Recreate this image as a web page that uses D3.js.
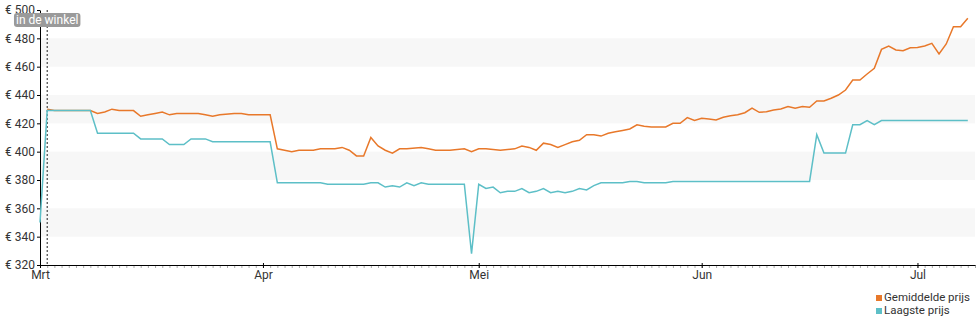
<!DOCTYPE html>
<html>
<head>
<meta charset="utf-8">
<script src="https://cdn.jsdelivr.net/npm/d3@7"></script>
<style>
  body { margin: 0; background: #fff; }
  #chart { font-family: Roboto, sans-serif; }
  .axis text { font-family: Roboto, sans-serif; font-size: 12px; fill: #333; }
</style>
</head>
<body>
<div id="chart"></div>
<script>
// lowest price per day
var lowDates = ["2021-03-01", "2021-03-02", "2021-03-08", "2021-03-09", "2021-03-14", "2021-03-15", "2021-03-18",
  "2021-03-19", "2021-03-21", "2021-03-22", "2021-03-24", "2021-03-25", "2021-04-02", "2021-04-03", "2021-04-09",
  "2021-04-10", "2021-04-15", "2021-04-16", "2021-04-17", "2021-04-18", "2021-04-19", "2021-04-20", "2021-04-21",
  "2021-04-22", "2021-04-23", "2021-04-24", "2021-04-29", "2021-04-30", "2021-05-01", "2021-05-02", "2021-05-03",
  "2021-05-04", "2021-05-05", "2021-05-06", "2021-05-07", "2021-05-08", "2021-05-09", "2021-05-10", "2021-05-11",
  "2021-05-12", "2021-05-13", "2021-05-14", "2021-05-15", "2021-05-16", "2021-05-17", "2021-05-18", "2021-05-21",
  "2021-05-22", "2021-05-23", "2021-05-24", "2021-05-27", "2021-05-28", "2021-06-16", "2021-06-17", "2021-06-18",
  "2021-06-21", "2021-06-22", "2021-06-23", "2021-06-24", "2021-06-25", "2021-06-26", "2021-07-08"];
var lowValues = [350, 429, 429, 413, 413, 409, 409,
  405, 405, 409, 409, 407, 407, 378, 378,
  377, 377, 378, 378, 375, 376, 375, 378,
  376, 378, 377, 377, 328, 377, 374, 375,
  371, 372, 372, 374, 371, 372, 374, 371,
  372, 371, 372, 374, 373, 376, 378, 378,
  379, 379, 378, 378, 379, 379, 412, 399,
  399, 419, 419, 422, 419, 422, 422];

// average price per day
var avgDates = ["2021-03-02", "2021-03-03", "2021-03-08", "2021-03-09", "2021-03-10", "2021-03-11", "2021-03-12",
  "2021-03-14", "2021-03-15", "2021-03-16", "2021-03-17", "2021-03-18", "2021-03-19", "2021-03-20", "2021-03-23",
  "2021-03-24", "2021-03-25", "2021-03-26", "2021-03-28", "2021-03-29", "2021-03-30", "2021-04-02", "2021-04-03",
  "2021-04-04", "2021-04-05", "2021-04-06", "2021-04-08", "2021-04-09", "2021-04-11", "2021-04-12", "2021-04-13",
  "2021-04-14", "2021-04-15", "2021-04-16", "2021-04-17", "2021-04-18", "2021-04-19", "2021-04-20", "2021-04-21",
  "2021-04-23", "2021-04-24", "2021-04-25", "2021-04-27", "2021-04-29", "2021-04-30", "2021-05-01", "2021-05-02",
  "2021-05-04", "2021-05-06", "2021-05-07", "2021-05-08", "2021-05-09", "2021-05-10", "2021-05-11", "2021-05-12",
  "2021-05-13", "2021-05-14", "2021-05-15", "2021-05-16", "2021-05-17", "2021-05-18", "2021-05-19", "2021-05-20",
  "2021-05-21", "2021-05-22", "2021-05-23", "2021-05-24", "2021-05-25", "2021-05-27", "2021-05-28", "2021-05-29",
  "2021-05-30", "2021-05-31", "2021-06-01", "2021-06-02", "2021-06-03", "2021-06-04", "2021-06-05", "2021-06-06",
  "2021-06-07", "2021-06-08", "2021-06-09", "2021-06-10", "2021-06-11", "2021-06-12", "2021-06-13", "2021-06-14",
  "2021-06-15", "2021-06-16", "2021-06-17", "2021-06-18", "2021-06-19", "2021-06-20", "2021-06-21", "2021-06-22",
  "2021-06-23", "2021-06-24", "2021-06-25", "2021-06-26", "2021-06-27", "2021-06-28", "2021-06-29", "2021-06-30",
  "2021-07-01", "2021-07-02", "2021-07-03", "2021-07-04", "2021-07-05", "2021-07-06", "2021-07-07", "2021-07-08"];
var avgValues = [430, 429, 429, 427, 428, 430, 429,
  429, 425, 426, 427, 428, 426, 427, 427,
  426, 425, 426, 427, 427, 426, 426, 402,
  401, 400, 401, 401, 402, 402, 403, 401,
  397, 397, 410, 404, 401, 399, 402, 402,
  403, 402, 401, 401, 402, 400, 402, 402,
  401, 402, 404, 403, 401, 406, 405, 403,
  405, 407, 408, 412, 412, 411, 413, 414,
  415, 416, 419, 418, 417.5, 417.5, 420, 420,
  424, 422, 423.5, 423, 422.4, 424.3, 425.4, 426.1,
  427.5, 430.8, 427.8, 428.2, 429.4, 430.1, 431.8, 430.6,
  431.8, 431.3, 435.8, 435.8, 437.7, 440, 443.5, 450.6,
  450.6, 454.8, 458.8, 472.2, 474.6, 471.8, 471.3, 473.4,
  473.6, 474.6, 476.5, 469, 476, 488.2, 488.2, 494.1];

var monthDates = ["2021-03-01", "2021-04-01", "2021-05-01", "2021-06-01", "2021-07-01"];
var monthLabels = ["Mrt", "Apr", "Mei", "Jun", "Jul"];
var yTicks = [320, 340, 360, 380, 400, 420, 440, 460, 480, 500];
var bands = [[340, 360], [380, 400], [420, 440], [460, 480]];
var inStoreDate = "2021-03-02";
var inStoreLabel = "in de winkel";
var seriesNames = ["Gemiddelde prijs", "Laagste prijs"];
var seriesColors = ["#e8782a", "#5dbfc7"];

var margin = { top: 10, right: 5, bottom: 60, left: 40 },
  width = 980 - margin.left - margin.right,
  height = 325 - margin.top - margin.bottom;

var parse = d3.timeParse("%Y-%m-%d");

var svg = d3.select("#chart")
  .append("svg")
  .attr("width", width + margin.left + margin.right)
  .attr("height", height + margin.top + margin.bottom)
  .append("g")
  .attr("transform", "translate(" + margin.left + "," + margin.top + ")");

var x = d3.scaleTime()
  .domain([parse("2021-03-01"), parse("2021-07-09")])
  .range([0, width]);

var y = d3.scaleLinear()
  .domain([320, 500])
  .range([height, 0]);

// grey bands
svg.selectAll(".band")
  .data(bands)
  .enter()
  .append("rect")
  .attr("class", "band")
  .attr("x", 0)
  .attr("width", width)
  .attr("y", function (d) { return y(d[1]); })
  .attr("height", function (d) { return y(d[0]) - y(d[1]); })
  .attr("fill", "#f7f7f7");

// day ticks
svg.append("g")
  .attr("transform", "translate(0," + height + ")")
  .call(d3.axisBottom(x).ticks(d3.timeDay.every(1)).tickSize(3).tickFormat(""))
  .call(function (g) { g.select(".domain").remove(); })
  .selectAll("line")
  .attr("stroke", "#aaa");

// x axis
var xAxis = svg.append("g")
  .attr("class", "axis")
  .attr("transform", "translate(0," + height + ")")
  .call(d3.axisBottom(x)
    .tickValues(monthDates.map(parse))
    .tickFormat(function (d, i) { return monthLabels[i]; })
    .tickSize(3)
    .tickSizeOuter(0)
    .tickPadding(2));
xAxis.selectAll(".tick line").attr("y1", -2);

// y axis
svg.append("g")
  .attr("class", "axis")
  .call(d3.axisLeft(y)
    .tickValues(yTicks)
    .tickFormat(function (d) { return "€ " + d; })
    .tickSize(3)
    .tickSizeOuter(0)
    .tickPadding(2));

// in store marker
svg.append("line")
  .attr("x1", x(parse(inStoreDate)))
  .attr("x2", x(parse(inStoreDate)))
  .attr("y1", 0)
  .attr("y2", height)
  .attr("stroke", "#222")
  .attr("stroke-dasharray", "2,2");

var line = d3.line()
  .x(function (d) { return x(d.date); })
  .y(function (d) { return y(d.value); });

var avgData = avgDates.map(function (d, i) { return { date: parse(d), value: avgValues[i] }; });
var lowData = lowDates.map(function (d, i) { return { date: parse(d), value: lowValues[i] }; });

svg.append("path")
  .datum(avgData)
  .attr("fill", "none")
  .attr("stroke", seriesColors[0])
  .attr("stroke-width", 1.5)
  .attr("d", line);

svg.append("path")
  .datum(lowData)
  .attr("fill", "none")
  .attr("stroke", seriesColors[1])
  .attr("stroke-width", 1.5)
  .attr("d", line);

// label box
var lbl = svg.append("g")
  .attr("transform", "translate(" + x(parse(inStoreDate)) + ",10)");
var lblText = lbl.append("text")
  .attr("text-anchor", "middle")
  .attr("y", 0)
  .attr("dy", "0.35em")
  .attr("fill", "#fff")
  .style("font-size", "12px")
  .text(inStoreLabel);
var bb = lblText.node().getBBox();
lbl.insert("rect", "text")
  .attr("x", bb.x - 2)
  .attr("y", -7)
  .attr("width", bb.width + 4)
  .attr("height", 14)
  .attr("rx", 3)
  .attr("fill", "#9a9a9a");

// legend
var legend = svg.selectAll(".legend")
  .data(seriesNames)
  .enter()
  .append("g")
  .attr("class", "legend")
  .attr("transform", function (d, i) { return "translate(" + (836) + "," + (height + 36 + i * 13) + ")"; });

legend.append("rect")
  .attr("x", 0)
  .attr("y", -6)
  .attr("width", 6)
  .attr("height", 6)
  .attr("fill", function (d, i) { return seriesColors[i]; });

legend.append("text")
  .attr("x", 8)
  .attr("y", 0)
  .style("font-size", "11.5px")
  .attr("fill", "#333")
  .text(function (d) { return d; });
</script>
</body>
</html>
